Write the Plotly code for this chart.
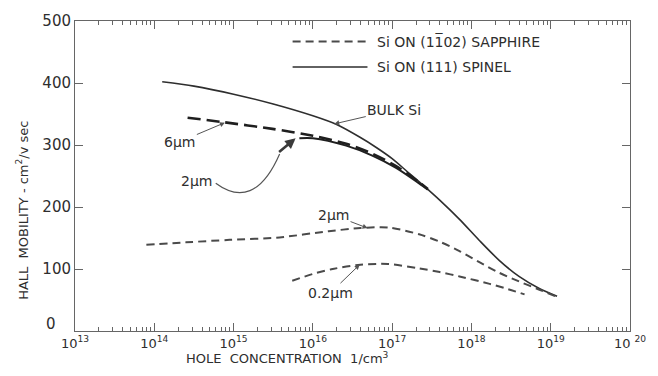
import plotly.graph_objects as go

# Hole concentration given as log10(p / cm^-3); Hall mobility in cm^2/V·s
bulk_logp = [14.1, 14.5, 15.0, 15.5, 16.0, 16.3, 16.6, 16.8, 17.0, 17.2,
             17.4, 17.6, 17.85, 18.1, 18.35, 18.6, 18.85, 19.08]
bulk_mu = [402, 395, 382, 366, 347, 333, 312, 296, 278, 256,
           234, 211, 180, 146, 114, 88, 69, 56]

spinel6_logp = [14.42, 14.86, 15.49, 16.0, 16.42, 16.75, 17.05, 17.34, 17.45]
spinel6_mu = [344, 337, 326, 315, 302, 286, 266, 240, 229]

spinel2_logp = [15.83, 16.0, 16.42, 16.75, 17.05, 17.34, 17.45]
spinel2_mu = [311, 311, 299, 283, 263, 238, 228]

sapph2_logp = [13.9, 14.4, 14.95, 15.58, 16.2, 16.6, 16.95, 17.34, 17.6,
               17.85, 18.1, 18.35, 18.6, 18.85, 19.08]
sapph2_mu = [139, 143, 147, 151, 161, 166, 167, 156, 144,
             129, 111, 94, 80, 67, 55]

sapph02_logp = [15.74, 16.0, 16.25, 16.6, 16.95, 17.34, 17.6, 17.85, 18.23,
                18.45, 18.67]
sapph02_mu = [81, 92, 100, 107, 108, 101, 95, 88, 76, 68, 59]

x_tick_exp = [13, 14, 15, 16, 17, 18, 19, 20]
x_tick_text = ["10<sup>13</sup>", "10<sup>14</sup>", "10<sup>15</sup>",
               "10<sup>16</sup>", "10<sup>17</sup>", "10<sup>18</sup>",
               "10<sup>19</sup>", "10 <sup>20</sup>"]
y_ticks = [0, 100, 200, 300, 400, 500]
# the origin label is set separately, raised clear of the 10^13 label
y_tick_text = ["", "100", "200", "300", "400", "500"]

INK = "#2e2e2e"
FONT = "DejaVu Sans"
SAPPH_DASH = "8px,5px"
SPINEL_DASH = "13px,6px"

fig = go.Figure()


def p(logs):
    return [10.0 ** v for v in logs]


def curve(logs, mu, name, color, width, dash=None):
    fig.add_trace(go.Scatter(
        x=p(logs), y=mu, mode="lines", name=name, showlegend=False,
        line=dict(color=color, width=width, dash=dash, shape="spline",
                  smoothing=0.8)))


curve(bulk_logp, bulk_mu, "BULK Si", INK, 1.6)
curve(spinel6_logp, spinel6_mu, "Si on (111) spinel, 6 µm", "#1f1f1f", 2.6,
      SPINEL_DASH)
curve(spinel2_logp, spinel2_mu, "Si on (111) spinel, 2 µm", "#1f1f1f", 2.0)
curve(sapph2_logp, sapph2_mu, "Si on sapphire, 2 µm", "#4a4a4a", 2.0,
      SAPPH_DASH)
curve(sapph02_logp, sapph02_mu, "Si on sapphire, 0.2 µm", "#4a4a4a", 2.0,
      SAPPH_DASH)

# plot-area geometry in pixels, used for the hand-placed key and leader curve
L, R, T, B = 75, 631, 14, 331


def px(xp):
    return (xp - L) / (R - L)


def py(yp):
    return (B - yp) / (B - T)


shapes = [
    dict(type="line", xref="paper", yref="paper", x0=px(293), x1=px(368),
         y0=py(35), y1=py(35), line=dict(color="#4a4a4a", width=2, dash=SAPPH_DASH)),
    dict(type="line", xref="paper", yref="paper", x0=px(293), x1=px(368),
         y0=py(61), y1=py(61), line=dict(color=INK, width=1.6)),
    dict(type="path", xref="paper", yref="paper",
         path=(f"M {px(216)},{py(180)} C {px(240)},{py(198)} "
               f"{px(262)},{py(192)} {px(280)},{py(150)}"),
         line=dict(color="#555555", width=1.2)),
]

text_font = dict(family=FONT, size=14, color=INK)


def label(xp, yp, text, size=14, angle=0, anchor="center"):
    return dict(xref="paper", yref="paper", x=px(xp), y=py(yp),
                xanchor=anchor, yanchor="middle", text=text, showarrow=False,
                textangle=angle, font=dict(family=FONT, size=size, color=INK))


def pointer(logx, mu, text, ax, ay):
    return dict(x=logx, y=mu, text=text, ax=ax, ay=ay, showarrow=True,
                arrowhead=2, arrowsize=1, arrowwidth=1, arrowcolor="#555555",
                font=text_font)


annotations = [
    label(376, 35, "Si ON (11\u030502) SAPPHIRE", anchor="left"),
    label(376, 61, "Si ON (111) SPINEL", anchor="left"),
    pointer(14.89, 336, "6\u00b5m", -45, 19),
    pointer(16.27, 334, "BULK Si", 60, -14),
    pointer(16.69, 166, "2\u00b5m", -34, -13),
    pointer(16.59, 107, "0.2\u00b5m", -29, 28),
    label(197, 178, "2\u00b5m"),
    dict(xref="paper", yref="paper", x=px(296), y=py(134), ax=-18, ay=15,
         text="", showarrow=True, arrowhead=2, arrowsize=0.8, arrowwidth=2.6,
         arrowcolor="#3a3a3a"),
    label(51, 324, "0", size=15),
    label(288, 359, "HOLE  CONCENTRATION  1/cm<sup>3</sup>", size=13),
    label(22, 208, "HALL  MOBILITY - cm<sup>2</sup>/v sec", size=13, angle=-90),
]

fig.update_layout(
    width=658, height=376,
    margin=dict(l=L, r=658 - R, t=T, b=376 - B),
    paper_bgcolor="white", plot_bgcolor="white",
    font=dict(family=FONT, size=14, color=INK),
    shapes=shapes, annotations=annotations,
)

fig.update_xaxes(
    type="log", range=[13, 20],
    tickvals=p(x_tick_exp), ticktext=x_tick_text,
    ticks="inside", ticklen=8, tickwidth=1, tickcolor="#666666",
    minor=dict(ticks="inside", ticklen=4, dtick="D1", tickcolor="#666666",
               showgrid=False),
    showline=True, linecolor="#666666", linewidth=1, mirror="ticks",
    showgrid=False, zeroline=False,
    tickfont=dict(family=FONT, size=13, color=INK),
)
fig.update_yaxes(
    range=[0, 500], tickvals=y_ticks, ticktext=y_tick_text,
    ticks="inside", ticklen=8, tickwidth=1, tickcolor="#666666",
    showline=True, linecolor="#666666", linewidth=1, mirror="ticks",
    showgrid=False, zeroline=False,
    tickfont=dict(family=FONT, size=15, color=INK),
)

fig.write_html("out.html")
